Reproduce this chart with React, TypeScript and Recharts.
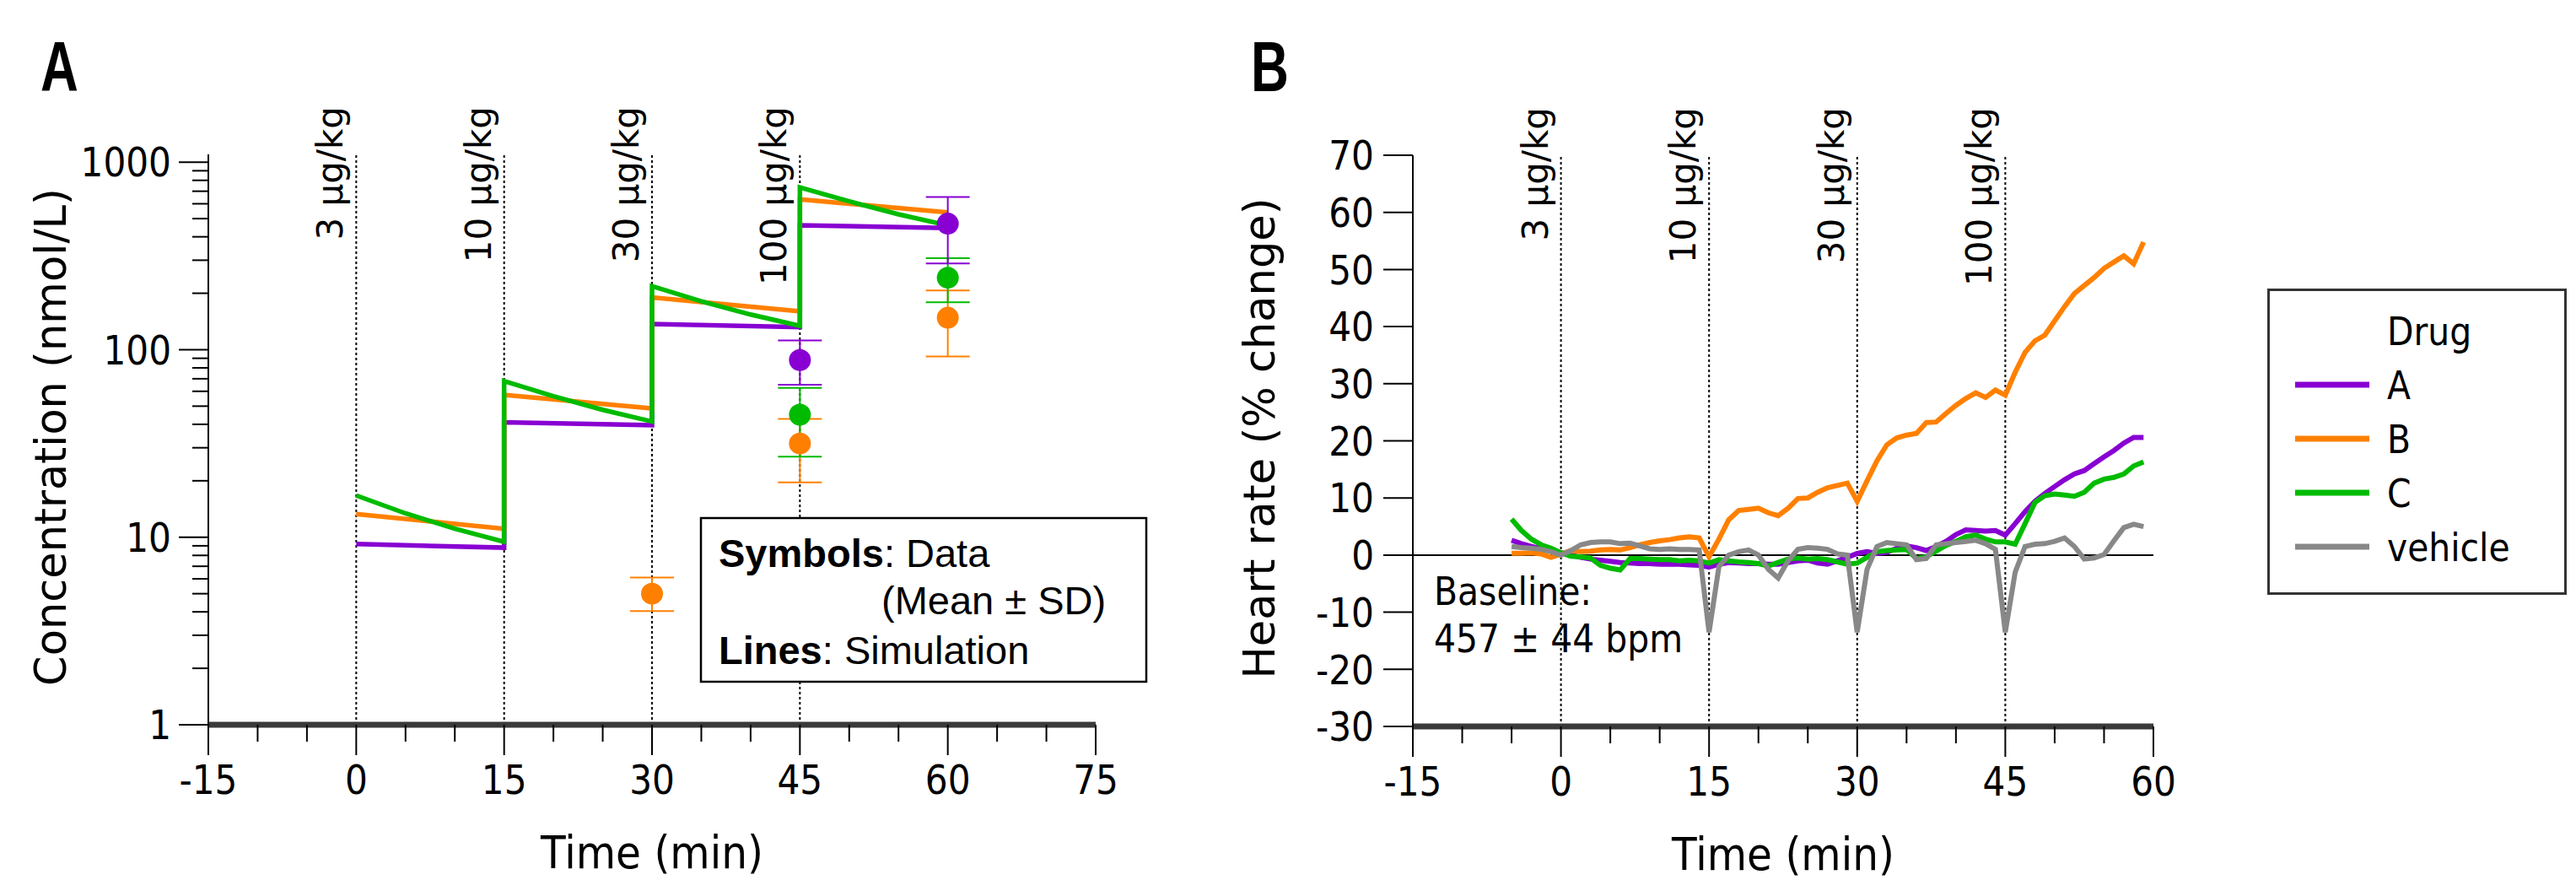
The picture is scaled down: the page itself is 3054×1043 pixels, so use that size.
import React from "react";
import {
  ComposedChart,
  Line,
  Scatter,
  ErrorBar,
  XAxis,
  YAxis,
  ReferenceLine,
  Legend,
} from "recharts";

// ---- Panel A: simulated concentration (piecewise, one segment per dose) ----
const simTimeAB = [0, 15, 15, 30, 30, 45, 45, 60];
const simA = [9.2, 8.8, 41.0, 39.6, 137, 132, 461, 446];
const simB = [13.3, 11.1, 57.4, 48.6, 190, 160, 634, 539];
const simTimeC = [0, 5, 10, 15, 15, 20, 25, 30, 30, 35, 40, 45, 45, 50, 55, 60];
const simC = [16.7, 13.4, 11.1, 9.45, 68, 56.5, 47.8, 41.4, 218, 181, 154, 134, 733, 618, 527, 460];

// observed mean ± SD
const obsTimeB = [30, 45, 60];
const obsB = [5.0, 31.6, 148];
const obsBLow = [4.04, 19.6, 92];
const obsBHigh = [6.1, 42.8, 207];
const obsTimeAC = [45, 60];
const obsA = [88, 470];
const obsALow = [65, 288];
const obsAHigh = [112, 652];
const obsC = [45, 242];
const obsCLow = [26.9, 179];
const obsCHigh = [62.5, 308];

const concTicks = [
  1, 2, 3, 4, 5, 6, 7, 8, 9, 10, 20, 30, 40, 50, 60, 70, 80, 90, 100, 200, 300, 400, 500, 600,
  700, 800, 900, 1000,
];
const concMajor = [1, 10, 100, 1000];
const timeTicksA = [-15, -10, -5, 0, 5, 10, 15, 20, 25, 30, 35, 40, 45, 50, 55, 60, 65, 70, 75];
const timeTicksB = [-15, -10, -5, 0, 5, 10, 15, 20, 25, 30, 35, 40, 45, 50, 55, 60];
const hrTicks = [-30, -20, -10, 0, 10, 20, 30, 40, 50, 60, 70];

const doseTimes = [0, 15, 30, 45];
const doseLabels = ["3 µg/kg", "10 µg/kg", "30 µg/kg", "100 µg/kg"];

// ---- Panel B: heart rate, % change, one value per minute from -5 to 59 ----
const hrTime = [
  -5, -4, -3, -2, -1, 0, 1, 2, 3, 4, 5, 6, 7, 8, 9, 10, 11, 12, 13, 14, 15, 16, 17, 18, 19, 20,
  21, 22, 23, 24, 25, 26, 27, 28, 29, 30, 31, 32, 33, 34, 35, 36, 37, 38, 39, 40, 41, 42, 43, 44,
  45, 46, 47, 48, 49, 50, 51, 52, 53, 54, 55, 56, 57, 58, 59,
];
const hrA = [
  2.6, 2.0, 1.5, 1.1, 0.8, 0.4, 0.0, -0.4, -0.7, -0.9,
  -1.1, -1.3, -1.4, -1.5, -1.5, -1.6, -1.6, -1.6, -1.7, -1.8,
  -2.1, -1.6, -1.3, -1.4, -1.5, -1.5, -1.6, -1.6, -1.3, -1.0,
  -0.9, -1.4, -1.6, -1.0, -0.4, 0.3, 0.6, 0.3, 0.5, 1.2,
  1.6, 1.3, 0.8, 1.5, 2.4, 3.6, 4.4, 4.3, 4.2, 4.3,
  3.5, 5.5, 7.6, 9.4, 10.8, 12.0, 13.2, 14.2, 14.8, 16.0,
  17.2, 18.3, 19.6, 20.6, 20.6,
];
const hrB = [
  0.3, 0.3, 0.4, 0.2, -0.4, 0.2, 0.8, 0.6, 0.7, 0.9,
  1.0, 0.9, 1.3, 1.8, 2.2, 2.5, 2.7, 3.0, 3.2, 3.0,
  -0.3, 2.8, 6.2, 7.8, 8.0, 8.2, 7.4, 6.9, 8.2, 9.9,
  10.0, 11.0, 11.8, 12.2, 12.6, 9.4, 13.0, 16.5, 19.3, 20.5,
  21.0, 21.3, 23.2, 23.3, 24.8, 26.2, 27.4, 28.4, 27.6, 28.9,
  28.0, 32.0, 35.5, 37.5, 38.5, 41.0, 43.5, 45.8, 47.2, 48.6,
  50.2, 51.3, 52.4, 51.0, 54.8,
];
const hrC = [
  6.3, 4.3, 2.8, 1.8, 1.2, 0.4, -0.2, -0.3, -0.5, -1.8,
  -2.3, -2.6, -0.6, -0.6, -0.7, -0.8, -0.8, -1.0, -0.9, -1.0,
  -1.4, -0.8, -1.0, -1.2, -1.3, -1.5, -1.9, -1.3, -0.7, -0.5,
  -0.7, -0.6, -0.8, -1.2, -1.6, -1.4, -0.4, 0.6, 0.8, 0.9,
  1.0, -0.6, -0.3, 0.7, 1.7, 2.4, 3.2, 3.5, 2.8, 2.3,
  2.3, 1.9, 5.5, 9.2, 10.4, 10.7, 10.5, 10.3, 11.0, 12.6,
  13.3, 13.6, 14.2, 15.6, 16.3,
];
const hrVehicle = [
  1.5, 1.3, 1.2, 1.0, 0.6, 0.0, 0.8, 1.8, 2.2, 2.3,
  2.3, 2.0, 2.1, 1.6, 1.1, 1.0, 1.1, 1.0, 1.0, 0.9,
  -13.5, -2.0, 0.0, 0.6, 0.9, 0.0, -2.5, -4.0, -1.0, 1.0,
  1.3, 1.2, 1.0, 0.2, 0.0, -13.5, -2.5, 1.5, 2.2, 2.0,
  1.8, -0.8, -0.6, 1.8, 2.0, 2.2, 2.4, 2.6, 2.0, 1.0,
  -13.5, -3.0, 1.5, 1.9, 2.0, 2.4, 3.0, 1.5, -0.7, -0.5,
  0.1, 2.5, 4.8, 5.4, 5.0,
];

const PURPLE = "#8800d2";
const ORANGE = "#ff8000";
const GREEN = "#00bb00";
const GREY = "#888888";

const SANS = '"DejaVu Sans", Verdana, sans-serif';
const ARIAL = '"Liberation Sans", Arial, sans-serif';

const pts = (ts: number[], vs: number[]) => ts.map((t, i) => ({ t, v: vs[i] }));
const obsPts = (ts: number[], vs: number[], lo: number[], hi: number[]) =>
  ts.map((t, i) => ({ t, v: vs[i], err: [vs[i] - lo[i], hi[i] - vs[i]] }));

// narrow (Tahoma-like) text: DejaVu Sans squeezed horizontally
function NarrowText(props: any) {
  const { x, y, size = 48, anchor = "start", dy, sx = 0.88, children } = props;
  return (
    <text
      transform={`translate(${x} ${y}) scale(${sx} 1)`}
      textAnchor={anchor}
      dy={dy}
      fontFamily={SANS}
      fontSize={size}
      fill="#000"
    >
      {children}
    </text>
  );
}

function TimeTick(props: any) {
  const { x, y, payload } = props;
  const major = payload.value % 15 === 0;
  return (
    <g>
      <line x1={x} y1={y} x2={x} y2={y + (major ? 36 : 20)} stroke="#000" strokeWidth={2} />
      {major && (
        <NarrowText x={x} y={y + 82} anchor="middle">
          {payload.value}
        </NarrowText>
      )}
    </g>
  );
}

function ConcTick(props: any) {
  const { x, y, payload } = props;
  const major = concMajor.includes(payload.value);
  return (
    <g>
      <line x1={x - (major ? 35 : 19)} y1={y} x2={x} y2={y} stroke="#000" strokeWidth={2} />
      {major && (
        <NarrowText x={x - 44} y={y} dy="0.36em" anchor="end">
          {payload.value}
        </NarrowText>
      )}
    </g>
  );
}

function HrTick(props: any) {
  const { x, y, payload } = props;
  return (
    <g>
      <line x1={x - 35} y1={y} x2={x} y2={y} stroke="#000" strokeWidth={2} />
      <NarrowText x={x - 46} y={y} dy="0.36em" anchor="end">
        {payload.value}
      </NarrowText>
    </g>
  );
}

function xTitle(text: string) {
  return (props: any) => {
    const vb = props.viewBox;
    return (
      <NarrowText x={vb.x + vb.width / 2} y={vb.y + 170} anchor="middle" size={54} sx={0.9}>
        {text}
      </NarrowText>
    );
  };
}

function yTitle(text: string, dx: number) {
  return (props: any) => {
    const vb = props.viewBox;
    const cx = vb.x + vb.width - dx;
    const cy = vb.y + vb.height / 2 - 3;
    return (
      <text
        x={cx}
        y={cy}
        dy="0.36em"
        transform={`rotate(-90, ${cx}, ${cy})`}
        textAnchor="middle"
        fontFamily={SANS}
        fontSize={51}
        fill="#000"
      >
        {text}
      </text>
    );
  };
}

function doseLabel(text: string) {
  return (props: any) => {
    const vb = props.viewBox;
    const ax = vb.x - 16;
    const ay = vb.y - 57;
    return (
      <text
        x={ax}
        y={ay}
        transform={`rotate(-90, ${ax}, ${ay})`}
        textAnchor="end"
        fontFamily={SANS}
        fontSize={42}
        fill="#000"
      >
        {text}
      </text>
    );
  };
}

function dot(color: string) {
  return (props: any) => <circle cx={props.cx} cy={props.cy} r={13} fill={color} />;
}

function DrugLegend(props: any) {
  const { payload } = props;
  return (
    <svg width={356} height={364} style={{ display: "block" }}>
      <rect x={1.5} y={1.5} width={352} height={360} fill="#fff" stroke="#333" strokeWidth={3} />
      <NarrowText x={142} y={50} dy="0.36em" size={47} sx={0.87}>
        Drug
      </NarrowText>
      {(payload || []).map((p: any, i: number) => (
        <g key={p.value}>
          <line x1={33} x2={121} y1={114 + 64 * i} y2={114 + 64 * i} stroke={p.color} strokeWidth={7} />
          <NarrowText x={142} y={114 + 64 * i} dy="0.36em" size={47} sx={0.87}>
            {p.value}
          </NarrowText>
        </g>
      ))}
    </svg>
  );
}

function ConcentrationPanel() {
  return (
    <ComposedChart
      width={1400}
      height={1043}
      margin={{ top: 183, right: 101, bottom: 84, left: 147 }}
    >
      <XAxis
        dataKey="t"
        type="number"
        domain={[-15, 75]}
        ticks={timeTicksA}
        interval={0}
        allowDataOverflow
        height={100}
        tickSize={0}
        tickMargin={0}
        tick={(p: any) => <TimeTick {...p} />}
        axisLine={{ stroke: "#3a3a3a", strokeWidth: 7 }}
        label={xTitle("Time (min)")}
      />
      <YAxis
        dataKey="v"
        scale="log"
        domain={[1, 1100]}
        ticks={concTicks}
        interval={0}
        allowDataOverflow
        width={100}
        tickSize={0}
        tickMargin={0}
        tick={(p: any) => <ConcTick {...p} />}
        axisLine={{ stroke: "#000", strokeWidth: 2 }}
        label={yTitle("Concentration (nmol/L)", 187)}
      />
      {doseTimes.map((t, i) => (
        <ReferenceLine
          key={t}
          x={t}
          stroke="#000"
          strokeWidth={2}
          strokeDasharray="3 3"
          label={doseLabel(doseLabels[i])}
        />
      ))}
      <Line data={pts(simTimeAB, simA)} dataKey="v" stroke={PURPLE} strokeWidth={5.5} dot={false} isAnimationActive={false} />
      <Line data={pts(simTimeAB, simB)} dataKey="v" stroke={ORANGE} strokeWidth={5.5} dot={false} isAnimationActive={false} />
      <Line data={pts(simTimeC, simC)} dataKey="v" stroke={GREEN} strokeWidth={5.5} dot={false} isAnimationActive={false} />
      <Scatter data={obsPts(obsTimeB, obsB, obsBLow, obsBHigh)} dataKey="v" shape={dot(ORANGE)} isAnimationActive={false}>
        <ErrorBar dataKey="err" direction="y" width={26} stroke={ORANGE} strokeWidth={2} />
      </Scatter>
      <Scatter data={obsPts(obsTimeAC, obsC, obsCLow, obsCHigh)} dataKey="v" shape={dot(GREEN)} isAnimationActive={false}>
        <ErrorBar dataKey="err" direction="y" width={26} stroke={GREEN} strokeWidth={2} />
      </Scatter>
      <Scatter data={obsPts(obsTimeAC, obsA, obsALow, obsAHigh)} dataKey="v" shape={dot(PURPLE)} isAnimationActive={false}>
        <ErrorBar dataKey="err" direction="y" width={26} stroke={PURPLE} strokeWidth={2} />
      </Scatter>
    </ComposedChart>
  );
}

function HeartRatePanel() {
  return (
    <ComposedChart
      width={1654}
      height={1043}
      margin={{ top: 184, right: 501, bottom: 82, left: 175 }}
    >
      <XAxis
        dataKey="t"
        type="number"
        domain={[-15, 60]}
        ticks={timeTicksB}
        interval={0}
        allowDataOverflow
        height={100}
        tickSize={0}
        tickMargin={0}
        tick={(p: any) => <TimeTick {...p} />}
        axisLine={{ stroke: "#3a3a3a", strokeWidth: 7 }}
        label={xTitle("Time (min)")}
      />
      <YAxis
        dataKey="v"
        type="number"
        domain={[-30, 70]}
        ticks={hrTicks}
        interval={0}
        allowDataOverflow
        width={100}
        tickSize={0}
        tickMargin={0}
        tick={(p: any) => <HrTick {...p} />}
        axisLine={{ stroke: "#000", strokeWidth: 2 }}
        label={yTitle("Heart rate (% change)", 182)}
      />
      <ReferenceLine y={0} stroke="#000" strokeWidth={2} />
      {doseTimes.map((t, i) => (
        <ReferenceLine
          key={t}
          x={t}
          stroke="#000"
          strokeWidth={2}
          strokeDasharray="3 3"
          label={doseLabel(doseLabels[i])}
        />
      ))}
      <Line name="A" data={pts(hrTime, hrA)} dataKey="v" stroke={PURPLE} strokeWidth={6} dot={false} isAnimationActive={false} />
      <Line name="B" data={pts(hrTime, hrB)} dataKey="v" stroke={ORANGE} strokeWidth={6} dot={false} isAnimationActive={false} />
      <Line name="C" data={pts(hrTime, hrC)} dataKey="v" stroke={GREEN} strokeWidth={6} dot={false} isAnimationActive={false} />
      <Line name="vehicle" data={pts(hrTime, hrVehicle)} dataKey="v" stroke={GREY} strokeWidth={6} dot={false} isAnimationActive={false} />
      <Legend
        layout="horizontal"
        verticalAlign="middle"
        align="center"
        wrapperStyle={{ left: 1288, top: 342, width: 356, height: 364 }}
        content={(p: any) => <DrugLegend {...p} />}
      />
    </ComposedChart>
  );
}

export default function App() {
  return (
    <div style={{ position: "absolute", left: 0, top: 0, width: 3054, height: 1043, background: "#fff", overflow: "hidden" }}>
      <div style={{ position: "absolute", left: 0, top: 0 }}>
        <ConcentrationPanel />
      </div>
      <div style={{ position: "absolute", left: 1400, top: 0 }}>
        <HeartRatePanel />
      </div>
      <svg width={3054} height={1043} style={{ position: "absolute", left: 0, top: 0, pointerEvents: "none" }}>
        <text transform="translate(48 108) scale(0.74 1)" fontFamily={ARIAL} fontWeight="bold" fontSize={84} fill="#000">
          A
        </text>
        <text transform="translate(1483 108) scale(0.74 1)" fontFamily={ARIAL} fontWeight="bold" fontSize={84} fill="#000">
          B
        </text>
        <rect x={831} y={614} width={528} height={194} fill="#fff" stroke="#000" strokeWidth={2.5} />
        <text x={852} y={672} fontFamily={ARIAL} fontSize={47} fill="#000">
          <tspan fontWeight="bold">Symbols</tspan>: Data
        </text>
        <text x={1045} y={728} fontFamily={ARIAL} fontSize={47} fill="#000">
          (Mean ± SD)
        </text>
        <text x={852} y={787} fontFamily={ARIAL} fontSize={47} fill="#000">
          <tspan fontWeight="bold">Lines</tspan>: Simulation
        </text>
        <NarrowText x={1700} y={717} size={47} sx={0.87}>
          Baseline:
        </NarrowText>
        <NarrowText x={1700} y={773} size={47} sx={0.87}>
          457 ± 44 bpm
        </NarrowText>
      </svg>
    </div>
  );
}
